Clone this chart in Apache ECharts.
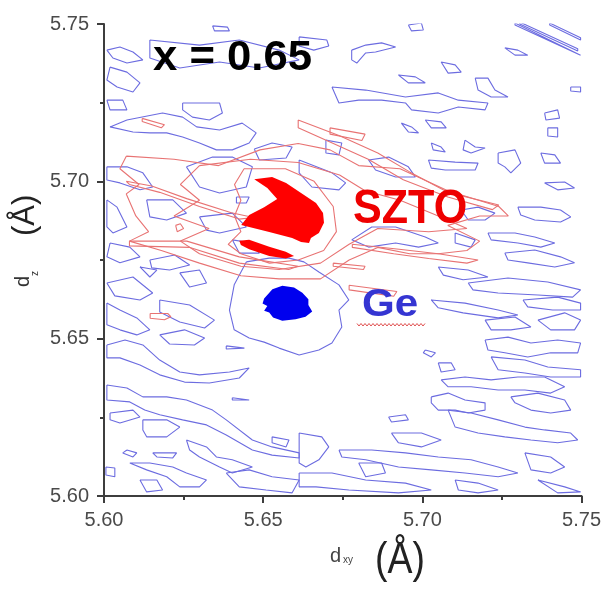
<!DOCTYPE html>
<html>
<head>
<meta charset="utf-8">
<script src="https://cdn.jsdelivr.net/npm/echarts@6/dist/echarts.min.js"></script>
<style>
html,body{margin:0;padding:0;background:#fff;}
#chart{width:604px;height:594px;}
</style>
</head>
<body>
<div id="chart"></div>
<script>
// Axis ticks (Å)
const xTicks = [5.60, 5.65, 5.70, 5.75];
const yTicks = [5.60, 5.65, 5.70, 5.75];

// Filled peak regions [d_xy, d_z]
const sztoPeakCore = [[5.6472,5.7007],[5.6528,5.7014],[5.6572,5.6995],[5.6619,5.6963],[5.6666,5.6931],[5.6688,5.6899],[5.6691,5.6868],[5.6675,5.6836],[5.6650,5.6820],[5.6644,5.6804],[5.6619,5.6807],[5.6591,5.6820],[5.6519,5.6839],[5.6431,5.6861],[5.6456,5.6893],[5.6503,5.6918],[5.6544,5.6944],[5.6513,5.6979]];
const sztoPeakStreak = [[5.6425,5.6811],[5.6456,5.6814],[5.6519,5.6792],[5.6571,5.6776],[5.6597,5.6763],[5.6571,5.6755],[5.6519,5.6763],[5.6456,5.6784],[5.6430,5.6798]];
const gePeak = [[5.6503,5.6628],[5.6529,5.6657],[5.6560,5.6668],[5.6597,5.6663],[5.6623,5.6646],[5.6642,5.6625],[5.6642,5.6607],[5.6654,5.6586],[5.6633,5.6570],[5.6602,5.6562],[5.6560,5.6557],[5.6531,5.6567],[5.6519,5.6583],[5.6503,5.6589],[5.6513,5.6604],[5.6498,5.6612]];

// SZTO (red) contour lines
const sztoContours = [
 [[5.644,5.704],[5.657,5.704],[5.666,5.700],[5.672,5.692],[5.673,5.684],[5.669,5.678],[5.661,5.675],[5.652,5.674],[5.643,5.677],[5.639,5.680],[5.643,5.684],[5.641,5.689],[5.643,5.694],[5.641,5.699]],
 [[5.630,5.705],[5.646,5.707],[5.661,5.706],[5.674,5.702],[5.682,5.697],[5.693,5.694],[5.705,5.689],[5.714,5.685],[5.702,5.684],[5.686,5.685],[5.677,5.680],[5.668,5.674],[5.655,5.672],[5.643,5.673],[5.630,5.677],[5.624,5.681],[5.633,5.685],[5.622,5.689],[5.630,5.694],[5.624,5.699]],
 [[5.607,5.708],[5.622,5.707],[5.636,5.705],[5.649,5.710],[5.661,5.712],[5.671,5.710],[5.680,5.705],[5.693,5.704],[5.708,5.697],[5.724,5.692],[5.727,5.689],[5.718,5.689],[5.708,5.686],[5.718,5.681],[5.714,5.678],[5.705,5.677],[5.696,5.677],[5.686,5.679],[5.677,5.675],[5.668,5.669],[5.655,5.669],[5.643,5.670],[5.630,5.674],[5.618,5.678],[5.608,5.681],[5.614,5.684],[5.610,5.689],[5.607,5.696],[5.611,5.699],[5.605,5.704]],
 [[5.612,5.720],[5.619,5.718],[5.618,5.717],[5.612,5.719]],
 [[5.607,5.700],[5.615,5.6985],[5.626,5.6945],[5.640,5.690],[5.647,5.6885],[5.6425,5.688],[5.630,5.692],[5.6175,5.6965],[5.608,5.699]],
 [[5.671,5.717],[5.682,5.715],[5.681,5.713],[5.671,5.715]],
 [[5.678,5.680],[5.692,5.6785],[5.705,5.677],[5.7175,5.675],[5.714,5.674],[5.702,5.6755],[5.691,5.677],[5.678,5.679]],
 [[5.672,5.674],[5.682,5.673],[5.6815,5.672],[5.672,5.673]],
 [[5.677,5.667],[5.692,5.665],[5.691,5.6635],[5.677,5.6655]],
 [[5.661,5.7195],[5.674,5.7145],[5.686,5.709],[5.696,5.703],[5.708,5.6965],[5.724,5.6925],[5.722,5.691],[5.708,5.695],[5.694,5.7005],[5.683,5.707],[5.671,5.7125],[5.661,5.717]],
 [[5.6225,5.686],[5.624,5.6865],[5.625,5.685],[5.623,5.684]],
 [[5.6145,5.658],[5.620,5.658],[5.621,5.657],[5.619,5.656],[5.6145,5.6565]],
 [[5.608,5.681],[5.626,5.681],[5.6425,5.676],[5.661,5.673],[5.658,5.672],[5.6425,5.674],[5.627,5.679],[5.608,5.6795]]
];

// Ge substrate (blue) contour lines — upper left
const geContoursUpperLeft = [
 [[5.6009,5.7417],[5.6050,5.7427],[5.6091,5.7411],[5.6122,5.7386],[5.6072,5.7376],[5.6028,5.7392]],
 [[5.6019,5.7363],[5.6072,5.7347],[5.6113,5.7313],[5.6091,5.7284],[5.6041,5.7300],[5.6009,5.7322]],
 [[5.6009,5.7258],[5.6059,5.7258],[5.6072,5.7227],[5.6019,5.7227]],
 [[5.6247,5.7249],[5.6363,5.7249],[5.6372,5.7217],[5.6331,5.7195],[5.6278,5.7204],[5.6247,5.7227]],
 [[5.6072,5.7195],[5.6184,5.7217],[5.6247,5.7204],[5.6291,5.7173],[5.6363,5.7163],[5.6434,5.7185],[5.6478,5.7154],[5.6456,5.7122],[5.6403,5.7100],[5.6353,5.7100],[5.6300,5.7122],[5.6247,5.7141],[5.6197,5.7154],[5.6144,5.7154],[5.6091,5.7157],[5.6019,5.7173]],
 [[5.6009,5.7046],[5.6072,5.7046],[5.6122,5.7027],[5.6153,5.6982],[5.6113,5.6973],[5.6050,5.6995],[5.6009,5.7004]],
 [[5.6009,5.6941],[5.6041,5.6918],[5.6072,5.6855],[5.6028,5.6836],[5.6009,5.6855]],
 [[5.6134,5.6941],[5.6216,5.6941],[5.6259,5.6899],[5.6197,5.6877],[5.6144,5.6887]],
 [[5.6019,5.6804],[5.6081,5.6791],[5.6113,5.6760],[5.6050,5.6741],[5.6009,5.6760]],
 [[5.6009,5.6677],[5.6091,5.6696],[5.6153,5.6645],[5.6113,5.6623],[5.6034,5.6636]],
 [[5.6259,5.7046],[5.6341,5.7077],[5.6403,5.7077],[5.6466,5.7046],[5.6447,5.6982],[5.6363,5.6963],[5.6300,5.6982]],
 [[5.6472,5.7103],[5.6528,5.7122],[5.6591,5.7109],[5.6572,5.7074],[5.6488,5.7068]],
 [[5.6416,5.6950],[5.6456,5.6950],[5.6447,5.6931],[5.6416,5.6931]],
 [[5.6697,5.7131],[5.6747,5.7122],[5.6738,5.7084],[5.6697,5.7090]],
 [[5.6613,5.7068],[5.6716,5.7027],[5.6759,5.6995],[5.6738,5.6973],[5.6653,5.6982],[5.6613,5.7027]],
 [[5.6341,5.7494],[5.6388,5.7490],[5.6394,5.7478],[5.6347,5.7478]],
 [[5.6613,5.7459],[5.6700,5.7449],[5.6706,5.7430],[5.6659,5.7417],[5.6613,5.7430]],
 [[5.6144,5.7449],[5.6300,5.7433],[5.6425,5.7449],[5.6550,5.7417],[5.6613,5.7386],[5.6488,5.7360],[5.6363,5.7379],[5.6238,5.7360],[5.6144,5.7392]],
 [[5.6300,5.6887],[5.6403,5.6899],[5.6447,5.6855],[5.6363,5.6836],[5.6322,5.6845]],
 [[5.6403,5.6814],[5.6466,5.6804],[5.6488,5.6772],[5.6425,5.6772]],
 [[5.6113,5.6728],[5.6166,5.6718],[5.6144,5.6696]],
 [[5.6238,5.6709],[5.6300,5.6718],[5.6322,5.6677],[5.6269,5.6664]],
 [[5.6144,5.6750],[5.6222,5.6766],[5.6269,5.6734],[5.6206,5.6718],[5.6150,5.6725]]
];

// Ge (blue) contour lines — upper right
const geContoursUpperRight = [
 [[5.6956,5.7497],[5.6997,5.7503],[5.7003,5.7481],[5.6966,5.7478]],
 [[5.6778,5.7417],[5.6822,5.7433],[5.6872,5.7440],[5.6916,5.7427],[5.6853,5.7411],[5.6822,5.7408],[5.6794,5.7376],[5.6778,5.7386]],
 [[5.7259,5.7424],[5.7300,5.7417],[5.7331,5.7401],[5.7291,5.7401]],
 [[5.7059,5.7379],[5.7103,5.7370],[5.7122,5.7347],[5.7081,5.7344]],
 [[5.6925,5.7338],[5.6978,5.7332],[5.7009,5.7313],[5.6956,5.7313]],
 [[5.7166,5.7328],[5.7206,5.7328],[5.7228,5.7290],[5.7269,5.7268],[5.7216,5.7268],[5.7175,5.7290]],
 [[5.7466,5.7300],[5.7497,5.7300],[5.7497,5.7284],[5.7466,5.7287]],
 [[5.6716,5.7300],[5.6822,5.7290],[5.6947,5.7268],[5.7050,5.7281],[5.7113,5.7258],[5.7206,5.7249],[5.7197,5.7227],[5.7113,5.7236],[5.7050,5.7217],[5.6966,5.7227],[5.6947,5.7249],[5.6872,5.7258],[5.6800,5.7258],[5.6738,5.7249]],
 [[5.6934,5.7185],[5.6966,5.7173],[5.6988,5.7154],[5.6956,5.7157]],
 [[5.7009,5.7195],[5.7059,5.7189],[5.7075,5.7170],[5.7028,5.7170]],
 [[5.7384,5.7217],[5.7425,5.7227],[5.7431,5.7201],[5.7388,5.7195]],
 [[5.7394,5.7170],[5.7425,5.7170],[5.7425,5.7141],[5.7394,5.7144]],
 [[5.7028,5.7122],[5.7059,5.7109],[5.7072,5.7093],[5.7034,5.7100]],
 [[5.7134,5.7131],[5.7166,5.7109],[5.7197,5.7106],[5.7153,5.7090],[5.7128,5.7100]],
 [[5.7238,5.7090],[5.7291,5.7100],[5.7309,5.7058],[5.7278,5.7027],[5.7259,5.7046],[5.7238,5.7058]],
 [[5.7372,5.7090],[5.7416,5.7084],[5.7434,5.7058],[5.7384,5.7058]],
 [[5.7019,5.7068],[5.7103,5.7061],[5.7175,5.7058],[5.7166,5.7036],[5.7072,5.7036],[5.7028,5.7042]],
 [[5.7384,5.6995],[5.7447,5.6998],[5.7478,5.6979],[5.7425,5.6973]],
 [[5.7300,5.6918],[5.7372,5.6918],[5.7434,5.6909],[5.7466,5.6887],[5.7434,5.6871],[5.7353,5.6877],[5.7309,5.6893]],
 [[5.7206,5.6836],[5.7291,5.6836],[5.7353,5.6823],[5.7416,5.6804],[5.7372,5.6791],[5.7300,5.6804],[5.7216,5.6814]],
 [[5.7259,5.6772],[5.7353,5.6782],[5.7434,5.6760],[5.7478,5.6741],[5.7416,5.6728],[5.7331,5.6741],[5.7269,5.6750]],
 [[5.7122,5.6909],[5.7175,5.6918],[5.7228,5.6899],[5.7197,5.6877],[5.7144,5.6877]],
 [[5.6831,5.7068],[5.6894,5.7077],[5.6956,5.7046],[5.6978,5.7014],[5.6916,5.7014],[5.6853,5.7036]],
 [[5.7103,5.6836],[5.7166,5.6814],[5.7153,5.6791],[5.7103,5.6804]],
 [[5.6778,5.6814],[5.6841,5.6855],[5.6916,5.6855],[5.7009,5.6823],[5.7050,5.6804],[5.6988,5.6791],[5.6916,5.6804],[5.6831,5.6791]],
 [[5.7291,5.7503],[5.7497,5.7401],[5.7497,5.7395],[5.7291,5.7497]],
 [[5.7306,5.7506],[5.7488,5.7421],[5.7488,5.7414],[5.7306,5.7500]],
 [[5.7400,5.7503],[5.7497,5.7456],[5.7497,5.7449],[5.7400,5.7497]]
];

// Ge (blue) contour lines — around the Ge peak and lower right
const geContoursLowerRight = [
 [[5.6447,5.6744],[5.6409,5.6671],[5.6394,5.6591],[5.6409,5.6528],[5.6456,5.6502],[5.6503,5.6489],[5.6550,5.6470],[5.6613,5.6448],[5.6675,5.6464],[5.6716,5.6486],[5.6747,5.6537],[5.6738,5.6591],[5.6769,5.6623],[5.6738,5.6671],[5.6675,5.6712],[5.6628,5.6744],[5.6581,5.6756],[5.6519,5.6756]],
 [[5.7144,5.6677],[5.7269,5.6693],[5.7394,5.6680],[5.7497,5.6655],[5.7472,5.6632],[5.7363,5.6639],[5.7238,5.6645],[5.7159,5.6655]],
 [[5.7028,5.6623],[5.7134,5.6613],[5.7238,5.6591],[5.7300,5.6575],[5.7238,5.6566],[5.7128,5.6582],[5.7050,5.6598]],
 [[5.7050,5.6728],[5.7144,5.6718],[5.7206,5.6696],[5.7128,5.6687],[5.7066,5.6702]],
 [[5.7316,5.6623],[5.7425,5.6632],[5.7497,5.6613],[5.7497,5.6591],[5.7409,5.6591],[5.7331,5.6601]],
 [[5.7009,5.6464],[5.7041,5.6455],[5.7028,5.6442],[5.7003,5.6455]],
 [[5.7050,5.6423],[5.7091,5.6423],[5.7103,5.6401],[5.7059,5.6394]],
 [[5.7059,5.6369],[5.7134,5.6378],[5.7216,5.6369],[5.7300,5.6378],[5.7384,5.6378],[5.7447,5.6347],[5.7403,5.6327],[5.7322,5.6337],[5.7238,5.6337],[5.7153,5.6347],[5.7081,5.6347]],
 [[5.7197,5.6496],[5.7269,5.6505],[5.7341,5.6486],[5.7425,5.6496],[5.7497,5.6486],[5.7488,5.6455],[5.7403,5.6455],[5.7331,5.6442],[5.7259,5.6455],[5.7206,5.6464]],
 [[5.7197,5.6559],[5.7291,5.6569],[5.7341,5.6537],[5.7278,5.6528],[5.7216,5.6528]],
 [[5.7363,5.6559],[5.7447,5.6582],[5.7497,5.6559],[5.7478,5.6528],[5.7403,5.6528]],
 [[5.7216,5.6442],[5.7322,5.6432],[5.7394,5.6410],[5.7497,5.6401],[5.7497,5.6378],[5.7403,5.6378],[5.7322,5.6391],[5.7238,5.6401]],
 [[5.7028,5.6315],[5.7081,5.6327],[5.7134,5.6305],[5.7197,5.6296],[5.7197,5.6273],[5.7144,5.6264],[5.7103,5.6273],[5.7050,5.6273],[5.7028,5.6296]],
 [[5.6894,5.6251],[5.6947,5.6258],[5.6956,5.6242],[5.6903,5.6235]],
 [[5.7278,5.6315],[5.7363,5.6327],[5.7447,5.6305],[5.7466,5.6273],[5.7403,5.6264],[5.7341,5.6273],[5.7291,5.6296]],
 [[5.7081,5.6273],[5.7153,5.6264],[5.7238,5.6242],[5.7322,5.6219],[5.7384,5.6210],[5.7466,5.6200],[5.7488,5.6178],[5.7425,5.6169],[5.7341,5.6178],[5.7259,5.6188],[5.7175,5.6200],[5.7103,5.6219]],
 [[5.6903,5.6200],[5.6997,5.6200],[5.7059,5.6178],[5.6997,5.6156],[5.6925,5.6169]],
 [[5.6738,5.6146],[5.6841,5.6146],[5.6947,5.6137],[5.7050,5.6124],[5.7153,5.6115],[5.7238,5.6092],[5.7300,5.6073],[5.7238,5.6061],[5.7134,5.6073],[5.7028,5.6083],[5.6925,5.6092],[5.6822,5.6115],[5.6747,5.6124]],
 [[5.6613,5.6200],[5.6684,5.6188],[5.6706,5.6156],[5.6675,5.6115],[5.6634,5.6092],[5.6613,5.6105]],
 [[5.6800,5.6105],[5.6872,5.6105],[5.6884,5.6073],[5.6822,5.6061]],
 [[5.6613,5.6073],[5.6716,5.6073],[5.6822,5.6051],[5.6947,5.6041],[5.7028,5.6019],[5.6925,5.6010],[5.6769,5.6019],[5.6666,5.6029],[5.6613,5.6029]],
 [[5.7322,5.6137],[5.7403,5.6124],[5.7447,5.6092],[5.7403,5.6073],[5.7341,5.6083]],
 [[5.7363,5.6051],[5.7447,5.6029],[5.7497,5.6013],[5.7425,5.6010]],
 [[5.7103,5.6051],[5.7175,5.6041],[5.7238,5.6019],[5.7175,5.6010],[5.7113,5.6019]]
];

// Ge (blue) contour lines — lower left
const geContoursLowerLeft = [
 [[5.6009,5.6613],[5.6050,5.6591],[5.6103,5.6566],[5.6144,5.6528],[5.6103,5.6512],[5.6050,5.6528],[5.6009,5.6544]],
 [[5.6009,5.6480],[5.6066,5.6496],[5.6122,5.6480],[5.6175,5.6432],[5.6238,5.6394],[5.6300,5.6385],[5.6394,5.6394],[5.6456,5.6407],[5.6425,5.6375],[5.6331,5.6359],[5.6253,5.6362],[5.6175,5.6385],[5.6113,5.6416],[5.6050,5.6439],[5.6009,5.6439]],
 [[5.6384,5.6477],[5.6441,5.6470],[5.6441,5.6464],[5.6384,5.6467]],
 [[5.6009,5.6353],[5.6072,5.6343],[5.6122,5.6315],[5.6197,5.6315],[5.6259,5.6305],[5.6341,5.6273],[5.6384,5.6242],[5.6466,5.6178],[5.6528,5.6156],[5.6613,5.6137],[5.6613,5.6121],[5.6528,5.6130],[5.6466,5.6146],[5.6384,5.6194],[5.6322,5.6226],[5.6247,5.6242],[5.6175,5.6258],[5.6128,5.6273],[5.6081,5.6299],[5.6009,5.6305]],
 [[5.6019,5.6264],[5.6091,5.6273],[5.6113,5.6251],[5.6050,5.6232],[5.6019,5.6242]],
 [[5.6122,5.6242],[5.6197,5.6242],[5.6238,5.6219],[5.6197,5.6188],[5.6134,5.6188],[5.6122,5.6210]],
 [[5.6072,5.6146],[5.6103,5.6137],[5.6091,5.6124],[5.6059,5.6137]],
 [[5.6153,5.6137],[5.6228,5.6137],[5.6216,5.6121],[5.6166,5.6124]],
 [[5.6081,5.6105],[5.6144,5.6105],[5.6216,5.6092],[5.6259,5.6073],[5.6322,5.6051],[5.6300,5.6029],[5.6238,5.6029],[5.6197,5.6061],[5.6134,5.6083]],
 [[5.6113,5.6051],[5.6166,5.6051],[5.6184,5.6019],[5.6134,5.6013]],
 [[5.6006,5.6092],[5.6034,5.6089],[5.6034,5.6061],[5.6006,5.6067]],
 [[5.6259,5.6178],[5.6322,5.6156],[5.6353,5.6124],[5.6403,5.6115],[5.6466,5.6092],[5.6403,5.6073],[5.6363,5.6092],[5.6300,5.6124],[5.6269,5.6146]],
 [[5.6384,5.6073],[5.6456,5.6083],[5.6528,5.6061],[5.6613,5.6051],[5.6591,5.6010],[5.6509,5.6019],[5.6425,5.6029]],
 [[5.6528,5.6188],[5.6581,5.6178],[5.6572,5.6156],[5.6528,5.6169]],
 [[5.6175,5.6623],[5.6269,5.6607],[5.6347,5.6559],[5.6316,5.6534],[5.6238,5.6553],[5.6175,5.6585]],
 [[5.6403,5.6312],[5.6456,5.6305],[5.6456,5.6299],[5.6403,5.6305]],
 [[5.6175,5.6512],[5.6253,5.6528],[5.6316,5.6502],[5.6284,5.6480],[5.6206,5.6483]]
];

const BLUE_LINE = '#6c6ce0';
const RED_LINE = '#e87373';

function contourSeries(c, color) {
  return {
    type: 'line', data: c.concat([c[0]]), symbol: 'none', showSymbol: false,
    silent: true, animation: false, smooth: false, z: 2,
    lineStyle: { color: color, width: 1.1 }
  };
}
function fillSeries(poly, color) {
  return {
    type: 'custom', coordinateSystem: 'cartesian2d', silent: true, animation: false, z: 5,
    data: [poly[0]],
    renderItem: function (params, api) {
      return { type: 'polygon', shape: { points: poly.map(p => api.coord(p)) }, style: { fill: color } };
    }
  };
}

const series = [];
[geContoursUpperLeft, geContoursUpperRight, geContoursLowerRight, geContoursLowerLeft].forEach(group => {
  group.forEach(c => series.push(contourSeries(c, BLUE_LINE)));
});
sztoContours.forEach(c => series.push(contourSeries(c, RED_LINE)));
series.push(fillSeries(sztoPeakCore, '#ff0000'));
series.push(fillSeries(sztoPeakStreak, '#ff0000'));
series.push(fillSeries(gePeak, '#0000ee'));

// wavy underline under "Ge"
const wave = [];
for (let i = 0; i <= 34; i++) wave.push([357 + i * 2, i % 2 ? 326 : 323.5]);

const AXIS_COLOR = '#3d3d3d';
const axisCommon = {
  type: 'value', min: 5.60, max: 5.75, interval: 0.05,
  axisLine: { show: true, onZero: false, lineStyle: { color: AXIS_COLOR, width: 2 } },
  axisTick: { show: true, inside: false, length: 7, lineStyle: { color: AXIS_COLOR, width: 2 } },
  minorTick: { show: true, splitNumber: 2, length: 4, lineStyle: { color: AXIS_COLOR, width: 2 } },
  splitLine: { show: false },
  axisLabel: { color: '#4a4a4a', fontSize: 20, fontFamily: 'Liberation Sans, Arial, sans-serif',
    formatter: v => v.toFixed(2) }
};

const chart = echarts.init(document.getElementById('chart'), null, { renderer: 'canvas' });
chart.setOption({
  backgroundColor: '#ffffff',
  animation: false,
  grid: { left: 104, top: 24, width: 480, height: 472, containLabel: false },
  xAxis: Object.assign({}, axisCommon, { axisLabel: Object.assign({}, axisCommon.axisLabel, { margin: 14 }) }),
  yAxis: Object.assign({}, axisCommon, { axisLabel: Object.assign({}, axisCommon.axisLabel, { margin: 15 }) }),
  series: series,
  graphic: [
    { type: 'text', x: 153, y: 58, z: 100, style: { text: 'x = 0.65', font: 'bold 42px "Liberation Sans", Arial, sans-serif', fill: '#000', align: 'left', verticalAlign: 'middle' }, scaleX: 1.04 },
    { type: 'text', x: 353, y: 209, z: 100, style: { text: 'SZTO', font: 'bold 49px "Liberation Sans", Arial, sans-serif', fill: '#ee0000', align: 'left', verticalAlign: 'middle' }, scaleX: 0.88 },
    { type: 'text', x: 362, y: 305.5, z: 100, style: { text: 'Ge', font: 'bold 39px "Liberation Sans", Arial, sans-serif', fill: '#3535d2', align: 'left', verticalAlign: 'middle' }, scaleX: 1.08 },
    { type: 'polyline', z: 100, shape: { points: wave }, style: { stroke: '#e05050', lineWidth: 1, fill: null } },
    // x-axis title d_xy (Å)
    { type: 'text', x: 330, y: 556, z: 100, style: { text: 'd', font: '20px "Liberation Sans", Arial, sans-serif', fill: '#444', align: 'left', verticalAlign: 'middle' } },
    { type: 'text', x: 343, y: 560.5, z: 100, style: { text: 'xy', font: '10px "Liberation Sans", Arial, sans-serif', fill: '#444', align: 'left', verticalAlign: 'middle' } },
    { type: 'text', x: 375, y: 561, z: 100, style: { text: '(Å)', font: '44px "Liberation Sans", Arial, sans-serif', fill: '#222', align: 'left', verticalAlign: 'middle' }, scaleX: 0.85 },
    // y-axis title d_z (Å)
    { type: 'text', x: 23, y: 287, rotation: Math.PI / 2, z: 100, style: { text: 'd', font: '20px "Liberation Sans", Arial, sans-serif', fill: '#333', align: 'left', verticalAlign: 'middle' } },
    { type: 'text', x: 35.5, y: 276, rotation: Math.PI / 2, z: 100, style: { text: 'z', font: '10px "Liberation Sans", Arial, sans-serif', fill: '#333', align: 'left', verticalAlign: 'middle' } },
    { type: 'text', x: 25, y: 236, rotation: Math.PI / 2, z: 100, style: { text: '(Å)', font: '31px "Liberation Sans", Arial, sans-serif', fill: '#222', align: 'left', verticalAlign: 'middle' } }
  ]
});
</script>
</body>
</html>
